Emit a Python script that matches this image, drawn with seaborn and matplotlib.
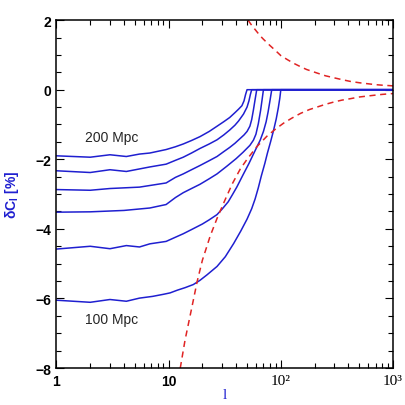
import numpy as np
import pandas as pd
import matplotlib
matplotlib.use('Agg')
import matplotlib.pyplot as plt
import seaborn as sns

# blue curves, top (200 Mpc) to bottom (100 Mpc)
l_1 = [1, 2, 3, 4.2, 5.5, 6.8, 9.5, 11.5, 13.5, 16, 19, 23, 27, 31, 35, 39, 42, 45, 47, 48.5, 50, 1000]
v_1 = [-1.9, -1.94, -1.87, -1.92, -1.85, -1.82, -1.72, -1.64, -1.56, -1.46, -1.35, -1.2, -1.05, -0.92, -0.8, -0.66, -0.56, -0.46, -0.32, -0.14, 0, 0]

l_2 = [1, 2, 3, 4.2, 6.8, 9.5, 11.5, 13.5, 16, 19, 23, 27, 31, 35, 39, 42, 46.5, 50, 52, 53.5, 55, 1000]
v_2 = [-2.33, -2.38, -2.3, -2.35, -2.22, -2.14, -2.03, -1.94, -1.82, -1.69, -1.56, -1.44, -1.3, -1.16, -1.02, -0.9, -0.7, -0.5, -0.32, -0.14, 0, 0]

l_3 = [1, 2, 3, 5.5, 9.5, 11.5, 13.5, 16, 19, 23, 27, 31, 35, 39, 43.5, 47, 50, 53, 55, 57, 59, 61, 1000]
v_3 = [-2.87, -2.89, -2.84, -2.8, -2.68, -2.52, -2.42, -2.3, -2.18, -2.04, -1.92, -1.78, -1.66, -1.54, -1.4, -1.3, -1.2, -1.05, -0.86, -0.58, -0.28, 0, 0]

l_4 = [1, 2, 4, 6.8, 9.5, 11.5, 13.5, 16, 19, 23, 27, 33, 40, 46, 53, 57, 60, 63, 66, 68, 70, 1000]
v_4 = [-3.52, -3.51, -3.47, -3.4, -3.3, -3.1, -2.96, -2.84, -2.72, -2.56, -2.42, -2.2, -1.98, -1.8, -1.6, -1.45, -1.28, -0.98, -0.6, -0.3, 0, 0]

l_5 = [1, 2, 3, 4.2, 5.5, 6.8, 9.5, 11.5, 13.5, 16, 20, 23, 27, 30, 34, 37, 40.5, 46, 52, 58, 65.5, 70, 74, 77, 80, 83, 1000]
v_5 = [-4.58, -4.5, -4.57, -4.48, -4.52, -4.43, -4.36, -4.24, -4.14, -4.02, -3.86, -3.74, -3.59, -3.43, -3.22, -3.02, -2.8, -2.45, -2.12, -1.8, -1.45, -1.2, -0.92, -0.64, -0.32, 0, 0]

l_6 = [1, 2, 3, 4.2, 5.5, 7.2, 9, 10.3, 12, 14, 16.6, 19, 22, 27, 32, 38, 44, 50, 55, 59, 63, 67, 72, 76, 81, 86, 91, 95, 98, 100, 1000]
v_6 = [-6.05, -6.11, -6.03, -6.08, -5.99, -5.94, -5.88, -5.84, -5.76, -5.69, -5.6, -5.48, -5.32, -5.08, -4.8, -4.42, -4.06, -3.72, -3.42, -3.14, -2.82, -2.48, -2.12, -1.82, -1.5, -1.18, -0.84, -0.52, -0.24, 0, 0]

# red dashed envelopes
l_up = [51, 55, 60, 65, 70, 80, 90, 100, 115, 130, 150, 170, 210, 250, 300, 350, 414, 500, 600, 700, 800, 900, 1000]
v_up = [2.0, 1.85, 1.7, 1.56, 1.45, 1.27, 1.12, 0.98, 0.86, 0.76, 0.66, 0.58, 0.48, 0.4, 0.34, 0.29, 0.24, 0.2, 0.17, 0.145, 0.13, 0.12, 0.11]
l_lo = [12.7, 14, 16, 18, 20, 23.5, 27, 32, 37, 43.5, 50, 61, 75, 89, 106, 125, 150, 180, 210, 250, 300, 350, 414, 500, 600, 700, 800, 1000]
v_lo = [-8.0, -7.2, -6.3, -5.5, -4.9, -4.2, -3.7, -3.15, -2.7, -2.28, -2.0, -1.64, -1.34, -1.14, -0.96, -0.82, -0.68, -0.57, -0.5, -0.42, -0.35, -0.3, -0.26, -0.21, -0.18, -0.155, -0.135, -0.11]

x_ticks = [1, 10, 100, 1000]
x_labels = ['1', '10', '10²', '10³']
y_ticks = [-8, -6, -4, -2, 0, 2]
y_labels = ['−8', '−6', '−4', '−2', '0', '2']

sns.set_style('ticks')
plt.rcParams['font.family'] = ['Liberation Sans', 'DejaVu Sans']

blue = '#1f1fd0'
red = '#e02424'

fig = plt.figure(figsize=(4.06, 4.06), dpi=100)
ax = fig.add_axes([0.139, 0.091, 0.829, 0.857])

blue_lines = [(l_1, v_1), (l_2, v_2), (l_3, v_3), (l_4, v_4), (l_5, v_5), (l_6, v_6)]
for ls, vs in blue_lines:
    df = pd.DataFrame({'l': ls, 'dC': vs})
    sns.lineplot(data=df, x='l', y='dC', ax=ax, color=blue, lw=1.1,
                 estimator=None, sort=False)

for ls, vs in [(l_up, v_up), (l_lo, v_lo)]:
    df = pd.DataFrame({'l': ls, 'dC': vs})
    sns.lineplot(data=df, x='l', y='dC', ax=ax, color=red, lw=1.1,
                 estimator=None, sort=False, linestyle=(0, (4, 3)))

ax.set_xscale('log')
ax.set_xlim(1, 1000)
ax.set_ylim(-8, 2)

ax.set_xticks(x_ticks)
ax.set_xticklabels(x_labels)
ax.xaxis.set_minor_locator(matplotlib.ticker.LogLocator(base=10, subs=np.arange(2, 10)))
ax.xaxis.set_minor_formatter(matplotlib.ticker.NullFormatter())
ax.set_yticks(y_ticks)
ax.set_yticklabels(y_labels)
ax.yaxis.set_minor_locator(matplotlib.ticker.MultipleLocator(0.5))

ax.tick_params(which='both', direction='in', top=True, right=True,
               labelsize=10, colors='black', width=0.8)
ax.tick_params(which='major', length=6, pad=4)
ax.tick_params(which='minor', length=3.5)
for lab in ax.get_xticklabels() + ax.get_yticklabels():
    lab.set_fontweight('bold')
for lab in ax.get_xticklabels()[2:]:
    lab.set_fontfamily('Liberation Serif')
    lab.set_fontweight('normal')
    lab.set_fontsize(11)
for s in ax.spines.values():
    s.set_linewidth(1.1)
    s.set_color('black')

ax.set_xlabel('l', color=blue, fontsize=11, family='Liberation Serif', labelpad=0)
ax.set_ylabel(r'δC$_\mathregular{l}$ [%]', color=blue, fontsize=10,
              fontweight='bold', labelpad=10)

ax.text(3.13, -1.35, '200 Mpc', fontsize=10, ha='center', va='center')
ax.text(3.13, -6.58, '100 Mpc', fontsize=10, ha='center', va='center')

fig.savefig('out.png', dpi=100)
